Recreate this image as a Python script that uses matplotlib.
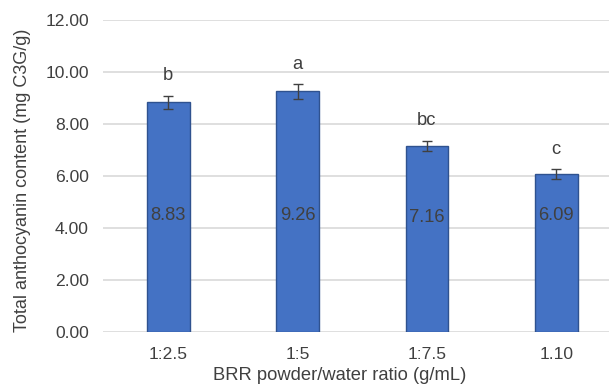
import matplotlib
matplotlib.use("Agg")
import matplotlib.pyplot as plt

# data
ratios = ["1:2.5", "1:5", "1:7.5", "1.10"]
anthocyanin = [8.83, 9.26, 7.16, 6.09]
errors = [0.25, 0.28, 0.20, 0.19]
letters = ["b", "a", "bc", "c"]
letter_heights = [9.85, 10.27, 8.15, 7.0]
label_heights = [4.5, 4.5, 4.42, 4.5]

text_color = "#404040"
plt.rcParams["font.family"] = ["Liberation Sans", "DejaVu Sans"]

fig = plt.figure(figsize=(6.09, 3.87), dpi=100)
ax = fig.add_axes([103.5 / 609, 1 - 332 / 387, 517.5 / 609, 312 / 387])

x = range(len(ratios))
ax.bar(x, anthocyanin, width=0.33, color="#4472C4", edgecolor="#2F528F",
       linewidth=1, zorder=3)
ax.errorbar(x, anthocyanin, yerr=errors, fmt="none", ecolor=text_color,
            elinewidth=1, capsize=3.5, capthick=1, zorder=4)

for i in x:
    ax.text(i, label_heights[i], f"{anthocyanin[i]:.2f}", ha="center",
            va="center", fontsize=13.2, color=text_color, zorder=5)
    ax.text(i, letter_heights[i], letters[i], ha="center", va="center",
            fontsize=13.2, color=text_color, zorder=5)

ax.set_xlim(-0.5, 3.5)
ax.set_ylim(0, 12)
ax.set_yticks([0, 2, 4, 6, 8, 10, 12])
ax.set_yticklabels([f"{v:.2f}" for v in [0, 2, 4, 6, 8, 10, 12]])
ax.set_xticks(list(x))
ax.set_xticklabels(ratios)
ax.tick_params(axis="both", length=0, pad=10.5, labelsize=12.6, labelcolor=text_color)
ax.grid(axis="y", color="#D9D9D9", linewidth=1.2, zorder=0)
for s in ax.spines.values():
    s.set_visible(False)

fig.text(340 / 609, 1 - 376 / 387, "BRR powder/water ratio (g/mL)",
         ha="center", va="center", fontsize=13.2, color=text_color)
fig.text(23 / 609, 1 - 180 / 387, "Total anthocyanin content (mg C3G/g)",
         ha="center", va="center", rotation=90, fontsize=13.0, color=text_color)

fig.savefig("out.png", dpi=100)
